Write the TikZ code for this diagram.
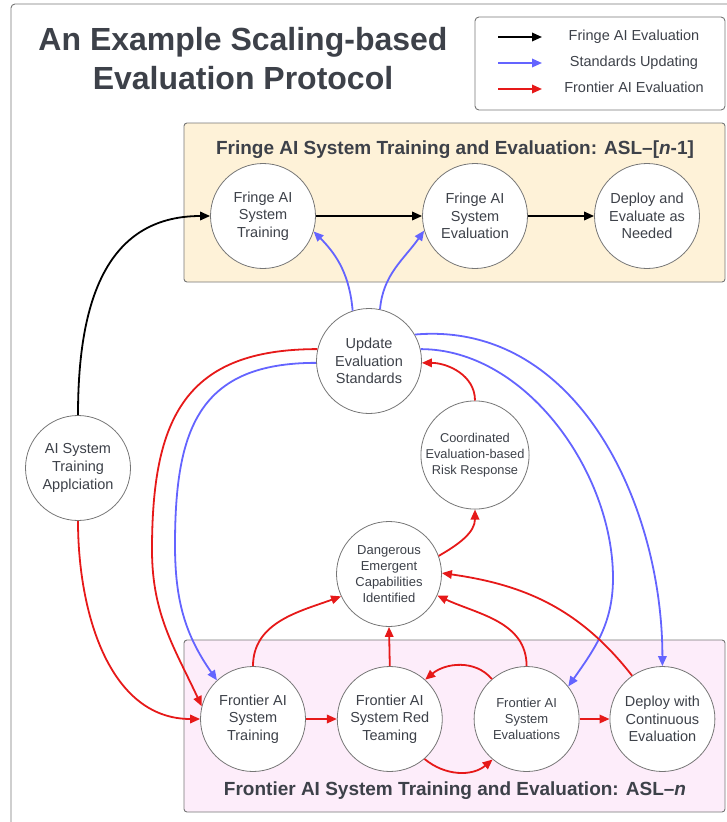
\documentclass[tikz,border=0pt]{standalone}
\usepackage{fontspec}
\setmainfont{Liberation Sans}
\usetikzlibrary{arrows.meta}
\usetikzlibrary{positioning}
\usetikzlibrary{math}
\definecolor{inkgray}{RGB}{61,65,73}
\definecolor{rimgray}{RGB}{118,118,118}
\definecolor{frred}{RGB}{230,25,25}
\definecolor{stdblue}{RGB}{100,100,255}
\definecolor{fringefill}{RGB}{254,242,216}
\definecolor{frontierfill}{RGB}{253,237,250}
\tikzset{>={Triangle[length=10pt,width=8.5pt]}}
\tikzset{
    stage/.style={circle, draw=rimgray, line width=0.8pt, fill=white, minimum size=2*\r, inner sep=0pt,
        align=center, text=inkgray, font=\fontsize{14.5}{17.7}\selectfont},
    small stage/.style={stage, font=\fontsize{13}{16}\selectfont},
    band/.style={draw=rimgray, line width=0.9pt, rounded corners=3pt},
    banner/.style={text=inkgray, font=\bfseries\fontsize{19}{22}\selectfont, anchor=base},
    fringeline/.style={->, line width=1.8pt, black},
    stdline/.style={->, line width=1.8pt, stdblue},
    frontierline/.style={->, line width=1.8pt, frred},
}

\begin{document}
\begin{tikzpicture}[x=1pt,y=1pt]
    \tikzmath{\r = 52.5; \gap = 31;}
    \useasboundingbox (0,-822) rectangle (727,0);
    \clip (0,-822) rectangle (727,0);
    \draw[rimgray, line width=0.9pt, rounded corners=4pt] (11,-4) rectangle (745,-840);

    % title and key
    \node[text=inkgray, font=\bfseries\fontsize{32}{39}\selectfont, align=center] (title) at (243,-59)
        {An Example Scaling-based\\Evaluation Protocol};
    \draw[band, rounded corners=4pt] (475,-17) rectangle (725,-110);
    \foreach \c/\txt [count=\i] in {black/Fringe AI Evaluation, stdblue/Standards Updating, frred/Frontier AI Evaluation}
    {
        \coordinate (key\i) at (498,-11-26*\i);
        \coordinate (tip\i) at (542,-11-26*\i);
        \draw[->, line width=1.8pt, \c] (key\i) -- (tip\i);
        \node[text=inkgray, font=\fontsize{14.5}{17}\selectfont, text height=10.5pt, text depth=3pt] (lab\i) at (634,-11-26*\i) {\txt};
    }

    % the two bands
    \draw[band, fill=fringefill] (184,-123) rectangle (725,-282);
    \node[banner] (fringetitle) at (455,-154) {Fringe AI System Training and Evaluation: ASL--[\textit{n}-1]};
    \draw[band, fill=frontierfill] (184,-640) rectangle (725,-812);
    \node[banner] (frontiertitle) at (455,-795) {Frontier AI System Training and Evaluation: ASL--\textit{n}};

    \node[stage] (appl) at (78,-468) {AI System\\Training\\Applciation};
    \node[stage] (ftrain) at (263,-216) {Fringe AI\\System\\Training};
    \node[stage] (feval) at (475,-216) {Fringe AI\\System\\Evaluation};
    \node[stage] (fdeploy) at (647,-216) {Deploy and\\Evaluate as\\Needed};
    \node[stage] (update) at (369,-361) {Update\\Evaluation\\Standards};
    \node[stage, font=\fontsize{12.8}{16}\selectfont] (coord) at (475,-455) {Coordinated\\Evaluation-based\\Risk Response};
    \node[small stage] (danger) at (389,-574) {Dangerous\\Emergent\\Capabilities\\Identified};
    \node[stage] (ntrain) at (253,-719) {Frontier AI\\System\\Training};
    \node[stage, right=\gap pt of ntrain] (nred) {Frontier AI\\System Red\\Teaming};
    \node[small stage, right=\gap pt of nred] (neval) {Frontier AI\\System\\Evaluations};
    \node[stage, right=30pt of neval] (ndeploy) {Deploy with\\Continuous\\Evaluation};

    % fringe
    \draw[fringeline] (appl.north) to[out=90,in=180,looseness=1.15] (ftrain.west);
    \draw[fringeline] (ftrain.east) -- (feval.west);
    \draw[fringeline] (feval.east) -- (fdeploy.west);

    % standards
    \draw[stdline] (update.108) to[out=95,in=-45] (ftrain.-17);
    \draw[stdline] (update.78) to[out=85,in=-125] (feval.196);
    \draw[stdline] (update.182) to[out=180,in=90,looseness=1.3] (175,-545) to[out=-90,in=125] (ntrain.133);
    \draw[stdline] (update.30) to[out=5,in=90] (ndeploy.north);
    \draw[stdline] (update.13) to[out=0,in=90,looseness=0.9] (613,-578) to[out=-90,in=55] (neval.38);

    % frontier
    \draw[frontierline] (appl.south) to[out=-90,in=180] (ntrain.west);
    \draw[frontierline] (update.167) to[out=180,in=90,looseness=1.3] (152,-550) to[out=-90,in=115] (ntrain.166);
    \draw[frontierline] (ntrain.east) -- (nred.west);
    \draw[frontierline] (neval.east) -- (ndeploy.west);
    \draw[frontierline] (nred.-49) to[out=-40,in=-140] (neval.230);
    \draw[frontierline] (neval.131) to[out=130,in=40] (nred.48);
    \draw[frontierline] (ntrain.north) to[out=90,in=200] (danger.205);
    \draw[frontierline] (nred.north) -- (danger.south);
    \draw[frontierline] (neval.north) to[out=90,in=-25] (danger.-24);
    \draw[frontierline] (ndeploy.125) to[out=128,in=-8] (danger.1);
    \draw[frontierline] (danger.20) to[out=30,in=-90] (coord.south);
    \draw[frontierline] (coord.north) to[out=90,in=0] (update.-2);
\end{tikzpicture}
\end{document}
